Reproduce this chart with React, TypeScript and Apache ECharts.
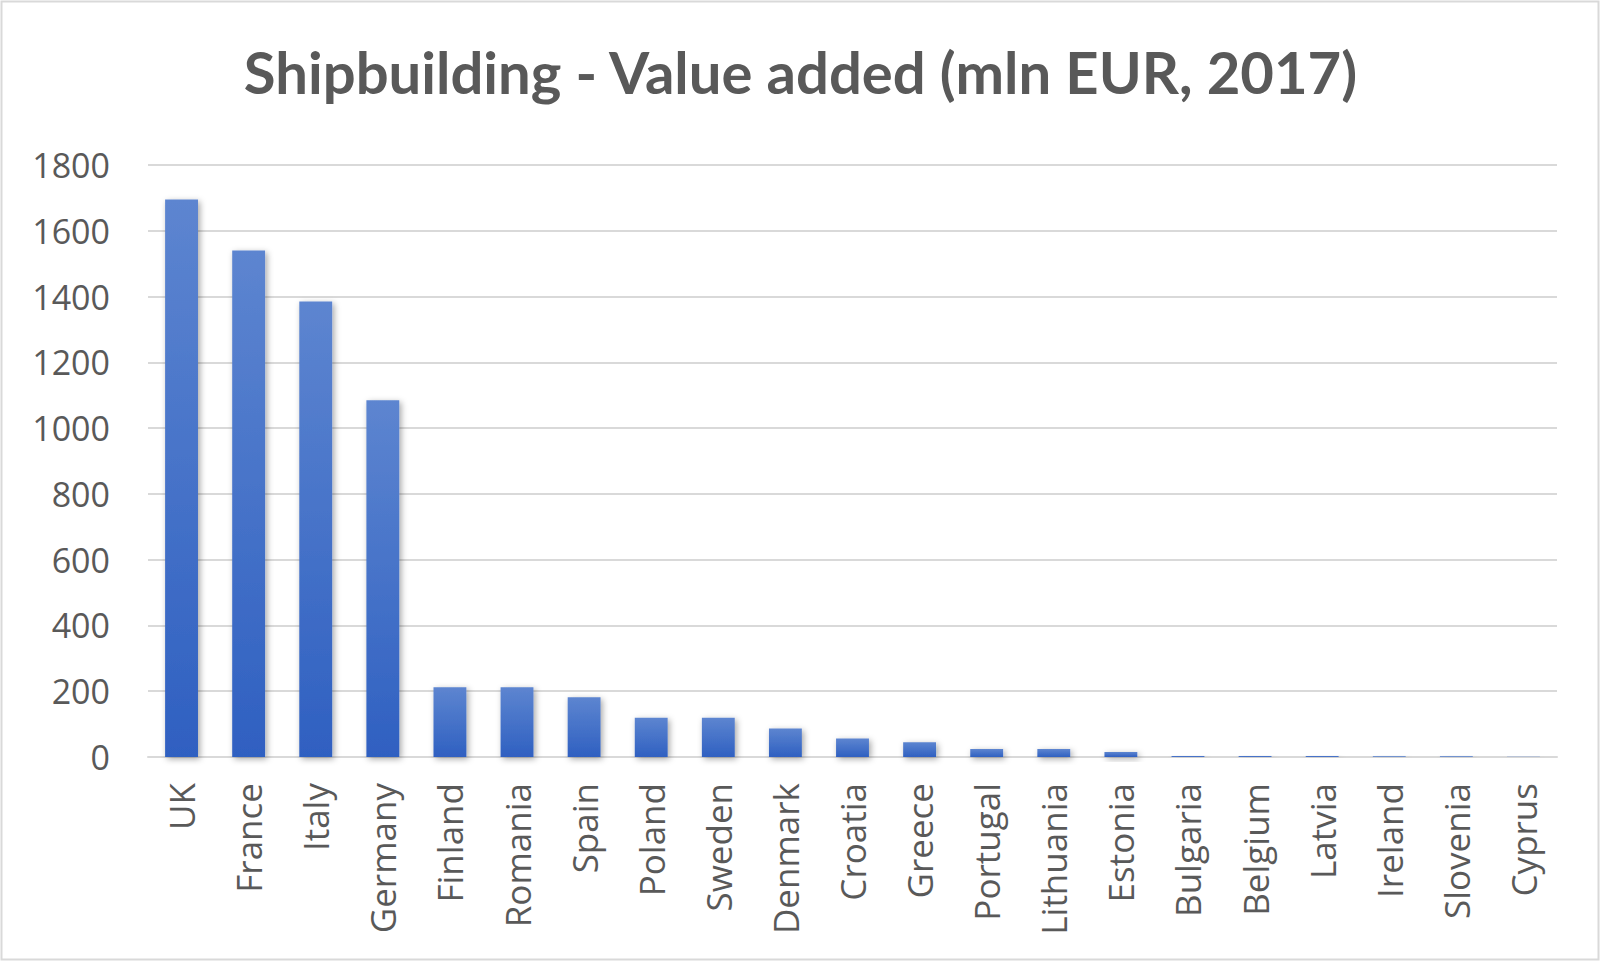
import React, { useEffect, useRef } from "react";
import * as echarts from "echarts";

const titleText = "Shipbuilding - Value added (mln EUR, 2017)";
const countries = [
  "UK", "France", "Italy", "Germany", "Finland", "Romania", "Spain", "Poland",
  "Sweden", "Denmark", "Croatia", "Greece", "Portugal", "Lithuania", "Estonia",
  "Bulgaria", "Belgium", "Latvia", "Ireland", "Slovenia", "Cyprus",
];
const valueAdded = [
  1695, 1540, 1385, 1085, 212, 212, 182, 119, 119, 87, 56, 45, 24, 24, 15,
  3, 3, 3, 2, 2, 1,
];
const yMin = 0;
const yMax = 1800;
const yStep = 200;

export default function App() {
  const ref = useRef<HTMLDivElement>(null);
  useEffect(() => {
    document.body.style.margin = "0";
    if (!ref.current) return;
    const chart = echarts.init(ref.current, null, { renderer: "svg" });
    chart.setOption({
      animation: false,
      backgroundColor: "#ffffff",
      title: {
        text: titleText,
        left: "center",
        top: 37,
        textStyle: {
          fontFamily: "Lato",
          fontWeight: 700,
          fontSize: 58,
          color: "#595959",
        },
      },
      graphic: [
        {
          type: "rect",
          shape: { x: 1.5, y: 1.5, width: 1597, height: 958 },
          style: { fill: "none", stroke: "#d9d9d9", lineWidth: 2 },
          silent: true,
        },
      ],
      grid: { left: 148, right: 44, top: 165, bottom: 205, containLabel: false },
      xAxis: {
        type: "category",
        data: countries,
        axisLine: { show: true, lineStyle: { color: "#d9d9d9", width: 2 } },
        axisTick: { show: false },
        axisLabel: {
          rotate: 90,
          interval: 0,
          margin: 26,
          fontFamily: "Open Sans",
          fontSize: 35,
          color: "#595959",
        },
      },
      yAxis: {
        type: "value",
        min: yMin,
        max: yMax,
        interval: yStep,
        axisLine: { show: false },
        axisTick: { show: false },
        splitLine: { lineStyle: { color: "#d9d9d9", width: 2 } },
        axisLabel: {
          margin: 38,
          fontFamily: "Open Sans",
          fontSize: 34,
          color: "#595959",
          formatter: (v: number) => String(v),
        },
      },
      series: [
        {
          type: "bar",
          data: valueAdded,
          barWidth: "49%",
          itemStyle: {
            color: new echarts.graphic.LinearGradient(0, 0, 0, 1, [
              { offset: 0, color: "#5d85d0" },
              { offset: 1, color: "#2f60c1" },
            ]),
            shadowColor: "rgba(0,0,0,0.35)",
            shadowBlur: 6,
            shadowOffsetX: 2,
            shadowOffsetY: 2,
          },
        },
      ],
    });
    return () => chart.dispose();
  }, []);
  return <div ref={ref} style={{ width: 1601, height: 962 }} />;
}
